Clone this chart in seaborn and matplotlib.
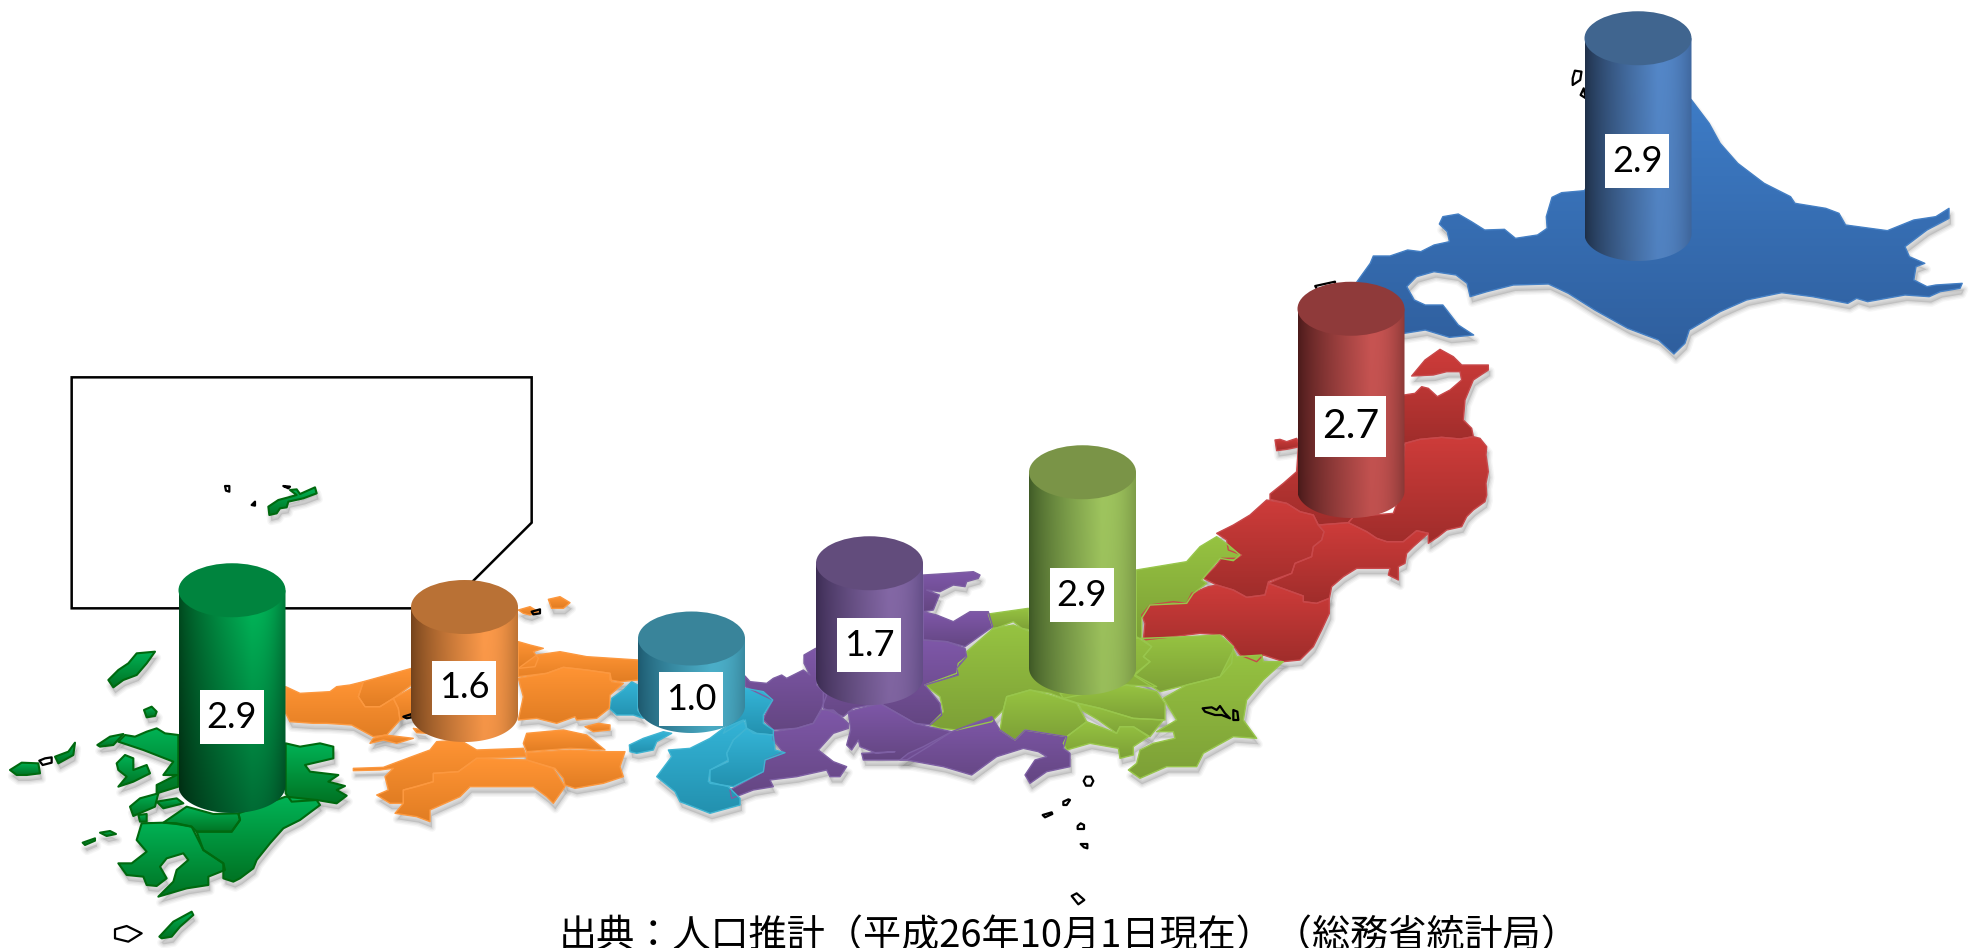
import numpy as np
import pandas as pd
import matplotlib
matplotlib.use("Agg")
import matplotlib.pyplot as plt
from matplotlib.patches import Polygon, PathPatch, Ellipse
from matplotlib.path import Path
import seaborn as sns

# ---------- chart values ----------
regions = ["北海道", "東北", "関東", "中部", "近畿", "中国四国", "九州"]
values = [2.9, 2.7, 2.9, 1.7, 1.0, 1.6, 2.9]
value_labels = ["2.9", "2.7", "2.9", "1.7", "1.0", "1.6", "2.9"]
source_text = "出典：人口推計（平成26年10月1日現在）（総務省統計局）"

# cylinder anchor on the map (pixels)
cyl_x = [1638, 1351, 1082.5, 869.5, 691.5, 464.5, 232]
cyl_base = [234, 491, 668, 678, 706, 715, 786]
label_boxes = [(1605, 134, 1669, 188), (1315, 396, 1386, 457), (1050, 568, 1114, 622),
               (837, 618, 901, 672), (659, 672, 723, 726), (432, 661, 496, 715), (200, 690, 264, 744)]
label_sizes = [26, 29.5, 26, 26, 26, 26, 26]

# cylinder gradient stops: dark left, peak, right edge, top-cap
cyl_left = ["#1f3049", "#4a1a1a", "#3f5a26", "#3c2c53", "#1d5a70", "#74431c", "#00491e"]
cyl_peak = ["#5487c8", "#c85452", "#9fc55e", "#8468a6", "#4cb0ca", "#fd9a4a", "#00b95a"]
cyl_right = ["#40689f", "#8d3a38", "#7f9e49", "#66508a", "#3a8ba2", "#bf7434", "#007a3a"]
cyl_cap = ["#40658f", "#8f3a3a", "#7a9447", "#624c7c", "#39849a", "#b97135", "#00843e"]

# ---------- map outlines: traced in crops, crop=(x0, y0, sx, sy) ----------
C1 = (1280, 0, 2.272, 3)
C2 = (1100, 340, 3, 3)
C3 = (900, 530, 3, 3)
C4 = (600, 560, 3, 3)
C5 = (270, 580, 3, 3)
C6 = (0, 630, 3, 3)
C7 = (960, 740, 3, 3)
C8 = (50, 360, 3, 3)

hokkaido = [(C1, [(175,845),(205,790),(212,768),(250,768),(290,750),(320,755),(350,735),(385,725),(380,695),(362,672),(370,650),(405,642),(435,665),(465,690),(510,688),(535,715),(585,705),(607,685),(605,650),(618,592),(640,578),(692,572),(760,400),(900,260),(935,300),(975,370),(1000,430),(1040,490),(1100,550),(1160,590),(1170,610),(1240,625),(1270,640),(1285,675),(1380,692),(1440,660),(1490,650),(1520,625),(1520,655),(1470,690),(1420,740),(1430,770),(1465,790),(1445,800),(1440,840),(1470,860),(1490,855),(1550,850),(1545,865),(1500,875),(1475,890),(1420,885),(1335,905),(1310,895),(1290,910),(1210,890),(1140,878),(1060,900),(1000,935),(930,990),(920,1030),(895,1062),(860,1020),(790,985),(715,930),(655,880),(610,852),(530,855),(470,875),(432,890),(425,850),(400,825),(350,815),(310,830),(288,860),(305,900),(330,915),(370,915),(405,975),(440,1005),(385,1012),(330,990),(282,1000),(230,1000),(180,950),(150,900)])]

tohoku = [
 (C2, [(912,165),(945,160),(965,140),(985,145),(1012,170),(1050,150),(1085,120),(1080,95),(1040,95),(1000,105),(935,108),(975,60),(1020,28),(1060,50),(1085,75),(1165,75),(1165,90),(1120,120),(1095,180),(1090,240),(1115,265),(1120,290),(1080,297),(1025,292),(960,298),(915,310),(880,300),(880,170)]),
 (C2, [(590,395),(550,430),(510,462),(510,478),(560,490),(600,515),(640,525),(655,555),(745,548),(760,530),(800,500),(900,300),(600,250)]),
 (C2, [(525,300),(540,298),(560,305),(590,295),(600,320),(560,328),(530,332)]),
 (C2, [(915,310),(960,298),(1025,292),(1080,297),(1120,290),(1140,295),(1160,320),(1158,345),(1165,395),(1158,430),(1160,465),(1155,485),(1120,510),(1100,530),(1085,560),(1040,570),(1015,590),(985,610),(985,580),(950,572),(910,605),(860,605),(830,595),(800,575),(745,548),(760,530),(880,520),(905,450)]),
 (C2, [(500,480),(560,490),(600,515),(640,525),(655,555),(672,575),(665,600),(640,620),(635,650),(585,670),(575,700),(505,725),(495,765),(440,772),(400,750),(350,735),(310,715),(345,680),(365,655),(410,655),(425,645),(385,630),(380,600),(350,580),(400,555),(450,525)]),
 (C2, [(655,555),(745,548),(800,575),(830,595),(860,605),(910,605),(950,572),(985,580),(940,620),(920,640),(915,670),(895,680),(895,720),(865,705),(870,685),(820,685),(770,685),(730,710),(695,740),(688,775),(650,790),(610,785),(610,768),(505,730),(575,700),(585,670),(635,650),(640,620),(665,600),(672,575)]),
 (C2, [(325,740),(350,735),(400,750),(440,772),(495,765),(505,730),(610,768),(610,785),(650,790),(688,775),(688,820),(665,870),(640,920),(600,960),(550,965),(490,945),(470,965),(420,945),(395,910),(370,885),(300,880),(220,890),(130,900),(135,850),(125,825),(150,795),(220,785),(260,790),(275,760)]),
]

kanto = [
 (C3, [(709,120),(860,95),(900,50),(950,20),(985,45),(1020,75),(1000,92),(960,85),(905,150),(920,160),(880,190),(860,220),(750,225),(725,265),(725,325),(709,325)]),
 (C3, [(265,252),(385,235),(390,300),(365,295),(340,275),(280,298)]),
 (C3, [(200,365),(280,295),(340,285),(390,305),(709,320),(755,350),(730,380),(750,395),(705,435),(770,470),(680,465),(490,505),(450,490),(390,480),(320,500),(310,540),(275,575),(170,600),(120,595),(90,585),(130,545),(120,500),(75,465),(170,430),(175,400),(200,380)]),
 (C3, [(725,325),(860,320),(960,315),(1000,350),(995,400),(960,440),(860,465),(780,485),(700,435),(750,395),(730,380),(755,350)]),
 (C3, [(1000,360),(1010,380),(1085,375),(1090,395),(1150,395),(1090,450),(1040,510),(1030,570),(1070,625),(1000,620),(910,670),(890,710),(800,710),(720,745),(685,720),(710,700),(720,660),(760,640),(825,625),(820,605),(770,605),(830,570),(790,505),(860,465),(960,440)]),
 (C3, [(480,490),(680,465),(770,485),(795,520),(795,570),(700,565),(600,535),(535,520),(490,505)]),
 (C3, [(535,520),(600,535),(700,565),(790,570),(750,620),(700,590),(660,590),(650,610),(595,570),(545,540)]),
 (C3, [(320,500),(390,480),(450,495),(530,520),(560,575),(500,620),(375,600),(345,630),(300,600),(310,540)]),
 (C3, [(560,575),(650,610),(660,590),(700,590),(745,620),(700,650),(700,675),(660,685),(655,655),(570,640),(500,660),(490,640),(500,620)]),
]

chubu = [
 (C4, [(970,45),(1050,40),(1120,35),(1140,45),(1135,55),(1100,65),(1095,80),(1060,75),(1020,95),(980,90),(1018,105),(1000,150),(970,155)]),
 (C4, [(970,155),(1010,165),(1060,185),(1110,155),(1165,155),(1178,200),(1095,260),(1040,245),(970,240)]),
 (C4, [(970,240),(1040,245),(1095,265),(1100,290),(1070,325),(1075,345),(975,375),(1020,430),(1025,465),(990,495),(945,490),(840,430),(760,445),(730,470),(670,445),(670,370),(820,350)]),
 (C4, [(650,375),(680,405),(665,445),(640,490),(590,505),(520,510),(490,480),(495,465),(518,420),(435,380),(435,348),(450,365),(500,370),(520,355),(545,345),(560,355),(590,340),(610,330),(630,345),(612,310),(612,285),(647,265)]),
 (C4, [(665,450),(700,450),(745,490),(745,505),(700,520),(655,570),(700,605),(740,620),(720,650),(690,650),(680,630),(590,650),(510,660),(520,680),(460,690),(395,715),(390,690),(490,635),(495,600),(550,578),(520,540),(520,515),(590,505),(640,490)]),
 (C4, [(745,455),(840,430),(945,490),(985,500),(1055,515),(985,560),(920,600),(790,600),(785,580),(885,575),(830,580),(780,560),(775,540),(755,570),(740,555),(752,510)]),
 (C3, [(155,605),(275,560),(300,600),(345,630),(375,600),(500,620),(490,655),(510,670),(510,710),(440,725),(390,760),(375,735),(405,690),(440,680),(415,665),(370,655),(290,680),(215,735),(130,710),(20,690),(0,690),(25,670),(70,650)]),
]

kinki = [
 (C4, [(95,365),(113,375),(113,450),(130,475),(100,465),(50,465),(28,445),(35,415),(70,390)]),
 (C4, [(436,385),(490,395),(518,420),(490,465),(490,490),(520,510),(520,525),(460,520),(440,505),(436,480),(370,520)]),
 (C4, [(88,555),(130,535),(190,515),(215,520),(170,545),(160,570),(110,580),(90,575)]),
 (C4, [(205,570),(270,565),(330,535),(370,505),(430,480),(440,505),(400,540),(380,580),(385,600),(330,630),(325,665),(385,680),(420,715),(420,735),(330,760),(240,725),(225,695),(170,650),(200,610),(215,590)]),
 (C4, [(440,505),(470,520),(520,525),(525,570),(555,578),(495,600),(490,635),(400,680),(330,670),(330,630),(385,605),(380,580),(400,540)]),
]

chugoku_shikoku = [
 (C5, [(47,320),(90,340),(180,335),(200,320),(240,315),(280,305),(265,350),(285,380),(330,380),(370,355),(385,385),(390,420),(350,465),(310,470),(245,435),(170,430),(130,430),(60,425),(47,400)]),
 (C5, [(280,305),(425,265),(425,315),(370,355),(330,380),(285,380),(265,350)]),
 (C5, [(370,355),(425,325),(425,410),(405,415),(390,420),(385,385)]),
 (C5, [(745,185),(780,195),(820,205),(790,215),(805,235),(795,260),(745,265)]),
 (C5, [(800,225),(870,215),(950,230),(1105,240),(1105,300),(1050,305),(1020,300),(1020,280),(950,270),(880,262),(830,280),(745,290),(745,265)]),
 (C5, [(745,295),(830,280),(880,262),(950,270),(1020,280),(1025,305),(1060,310),(1020,345),(1018,385),(980,415),(920,420),(915,410),(860,430),(800,415),(745,420),(760,350)]),
 (C5, [(300,490),(310,475),(345,465),(430,475),(380,490),(340,480)]),
 (C5, [(430,445),(460,450),(470,460),(440,458)]),
 (C5, [(945,440),(985,430),(1020,435),(1020,450),(970,455)]),
 (C5, [(835,58),(870,50),(900,68),(880,85),(845,85)]),
 (C5, [(745,90),(780,80),(805,95),(780,105),(760,100)]),
 (C5, [(250,565),(340,562),(420,532),(480,510),(500,485),(570,480),(620,510),(760,505),(770,530),(620,535),(565,575),(490,580),(490,605),(440,620),(400,630),(400,670),(360,670),(320,645),(355,630),(345,590),(370,565),(330,570),(250,572)]),
 (C5, [(400,630),(490,605),(490,580),(565,575),(620,535),(770,540),(850,565),(885,620),(850,670),(830,650),(790,620),(660,620),(600,620),(570,650),(480,690),(480,725),(440,710),(375,700),(400,670)]),
 (C5, [(770,460),(880,450),(950,465),(1005,510),(900,505),(770,515),(760,490)]),
 (C5, [(770,518),(900,510),(1005,515),(1065,515),(1050,560),(1060,590),(1000,610),(915,625),(885,615),(880,595),(855,565),(770,540)]),
]

kyushu = [
 (C6, [(857,340),(900,350),(960,340),(1000,350),(1000,385),(915,405),(930,425),(1015,435),(985,455),(1035,468),(1010,480),(1040,497),(1010,520),(950,510),(875,515),(857,490)]),
 (C6, [(440,305),(470,295),(495,310),(535,315),(535,470),(470,490),(470,465),(530,435),(490,435),(520,395),(430,360),(355,335),(375,315),(405,320)]),
 (C6, [(350,400),(375,375),(400,385),(400,420),(440,405),(450,430),(400,455),(355,470),(380,440),(355,420)]),
 (C6, [(325,150),(355,120),(385,100),(410,70),(465,65),(440,100),(410,135),(370,150),(340,172)]),
 (C6, [(432,240),(455,230),(470,245),(465,258),(440,262)]),
 (C6, [(292,345),(330,320),(370,312),(340,345),(300,350)]),
 (C6, [(30,420),(65,398),(115,400),(120,430),(80,435),(50,435)]),
 (C6, [(165,380),(205,365),(225,338),(220,375),(175,400)]),
 (C6, [(248,638),(285,625),(285,632),(255,645)]),
 (C6, [(300,608),(330,603),(348,612),(320,618)]),
 (C6, [(390,530),(420,505),(475,490),(465,530),(400,558)]),
 (C6, [(470,515),(530,505),(550,520),(490,535)]),
 (C6, [(415,555),(440,552),(440,575),(420,575)]),
 (C6, [(490,578),(560,530),(640,552),(715,550),(720,570),(695,605),(590,605),(575,590),(530,580)]),
 (C6, [(425,580),(490,578),(530,582),(575,590),(610,660),(670,700),(675,720),(625,740),(625,765),(560,775),(475,800),(520,755),(530,720),(565,690),(550,670),(500,685),(480,710),(500,745),(470,768),(440,765),(430,740),(380,735),(355,700),(395,700),(440,665),(410,630)]),
 (C6, [(590,605),(695,605),(720,570),(715,550),(857,500),(950,510),(960,525),(900,570),(850,595),(810,640),(770,690),(760,715),(720,745),(700,755),(670,745),(670,700),(610,660)]),
 (C6, [(478,920),(520,875),(575,845),(580,855),(540,890),(515,920),(485,925)]),
 (C8, [(655,440),(685,420),(715,412),(740,405),(720,390),(740,388),(750,402),(795,382),(800,400),(760,415),(715,425),(710,442),(690,445),(680,460),(658,465)]),
]

map_groups = [hokkaido, tohoku, kanto, chubu, kinki, chugoku_shikoku, kyushu]
map_top = ["#3e7dc8", "#ce3c3a", "#96c341", "#7e57a8", "#34b4d7", "#ff9434", "#00b255"]
map_bottom = ["#2f5f9e", "#a02d2b", "#7da037", "#644682", "#2391af", "#e17d23", "#007323"]
map_edge = ["#447fc4", "#c8484a", "#98c64c", "#7d5fa3", "#3fb4d2", "#fc983f", "#00690f"]
map_edge_width = [1.0, 1.0, 1.0, 1.0, 1.0, 1.0, 1.5]

outline_islands = [
 (C1, [(670,212),(685,215),(682,240),(665,255),(665,235)]),
 (C1, [(690,265),(695,295),(683,285)]),
 (C1, [(80,858),(125,845),(125,860),(85,870)]),
 (C6, [(345,898),(380,888),(425,910),(385,935),(345,925)]),
 (C6, [(118,392),(135,385),(155,382),(155,398),(128,405)]),
 (C7, [(371,123),(378,110),(393,110),(400,123),(393,137),(378,137)]),
 (C7, [(310,185),(325,178),(330,180),(320,195),(310,195)]),
 (C7, [(248,225),(275,217),(277,222),(255,232)]),
 (C7, [(353,258),(362,250),(372,255),(372,267),(353,267)]),
 (C7, [(362,312),(382,312),(382,325),(372,322)]),
 (C7, [(335,468),(350,460),(373,480),(355,493)]),
 (C8, [(525,378),(538,378),(538,395),(528,392)]),
 (C8, [(700,378),(720,380),(715,385)]),
 (C8, [(605,435),(615,425),(615,437)]),
 (C8, [(1445,755),(1470,748),(1470,760),(1450,763)]),
 (C5, [(400,410),(425,402),(425,412),(410,415)]),
 (C3, [(908,535),(935,532),(950,540),(960,528),(975,550),(990,565),(965,555),(945,555),(915,545)]),
 (C3, [(1000,540),(1012,545),(1015,570),(1000,570)]),
]
inset_box = (C8, [(65,52),(1445,52),(1445,488),(1187,745),(65,745)])

W, H = 1970, 948
PX_PER_UNIT = 67.5
CYL_W = 107
CAP_RY = 27


def to_px(entry):
    (x0, y0, sx, sy), pts = entry
    return [(x0 + x / sx, H - (y0 + y / sy)) for x, y in pts]


def rgb(c):
    return np.array(matplotlib.colors.to_rgb(c))


sns.set_theme(style="white")
plt.rcParams["font.family"] = ["Noto Sans CJK JP", "DejaVu Sans"]
fig = plt.figure(figsize=(W / 100, H / 100), dpi=100, facecolor="white")
ax = fig.add_axes([0, 0, 1, 1])

# inset frame
ax.add_patch(Polygon(to_px(inset_box), closed=True, fill=False, ec="black", lw=1.8, zorder=1, joinstyle="miter"))

# map
for g, group in enumerate(map_groups):
    top, bot = rgb(map_top[g]), rgb(map_bottom[g])
    ramp = np.linspace(top, bot, 64)[:, None, :]
    for entry in group:
        pts = to_px(entry)
        arr = np.array(pts)
        for k, a in [(6, 0.05), (4, 0.07), (2, 0.09)]:
            ax.add_patch(Polygon(arr + [2, -6], closed=True, fc="#555555", ec="#555555", lw=k,
                                 alpha=a, zorder=2, joinstyle="round"))
        poly = Polygon(pts, closed=True, fc="none", ec=map_edge[g], lw=map_edge_width[g], zorder=4, joinstyle="round")
        ax.add_patch(poly)
        im = ax.imshow(ramp, extent=(arr[:, 0].min(), arr[:, 0].max(), arr[:, 1].min(), arr[:, 1].max()),
                       origin="upper", aspect="auto", interpolation="bilinear", zorder=3)
        im.set_clip_path(poly)

for entry in outline_islands:
    ax.add_patch(Polygon(to_px(entry), closed=True, fc="none", ec="black", lw=1.6, zorder=5, joinstyle="round"))

# cylinders: bars through seaborn, then shaded
df = pd.DataFrame({"region": regions, "value": values, "x": cyl_x, "base": cyl_base})
df["height"] = df["value"] * PX_PER_UNIT

for i, row in df.iterrows():
    n_before = len(ax.patches)
    sns.barplot(x=[row["x"]], y=[row["height"]], bottom=H - row["base"], native_scale=True,
                width=CYL_W, errorbar=None, color=cyl_peak[i], ax=ax, zorder=6, linewidth=0)
    bar = ax.patches[n_before]
    bar.set_visible(False)
    x0, w = bar.get_x(), bar.get_width()
    y_base, h = bar.get_y(), bar.get_height()
    y_top = y_base + h
    xc = x0 + w / 2
    rx = w / 2

    th = np.linspace(np.pi, 2 * np.pi, 60)
    verts = [(x0, y_top)] + [(xc + rx * np.cos(t), y_base + CAP_RY * np.sin(t)) for t in th] + [(x0 + w, y_top), (x0, y_top)]
    clip = PathPatch(Path(verts), fc="none", ec="none", zorder=6)
    ax.add_patch(clip)

    u = np.linspace(0, 1, 128)
    left, peak, right = rgb(cyl_left[i]), rgb(cyl_peak[i]), rgb(cyl_right[i])
    row_colors = np.where((u < 0.68)[:, None],
                          left + (peak - left) * (np.clip(u / 0.68, 0, 1) ** 0.75)[:, None],
                          peak + (right - peak) * (np.clip((u - 0.68) / 0.32, 0, 1) ** 2.2)[:, None])
    v = np.linspace(0, 1, 96)
    if regions[i] == "九州":
        shade = 1.0 - 0.42 * v
    else:
        shade = 1.0 - 0.04 * v
    grad = np.clip(row_colors[None, :, :] * shade[:, None, None], 0, 1)
    im = ax.imshow(grad, extent=(x0, x0 + w, y_base - CAP_RY, y_top), origin="upper",
                   aspect="auto", interpolation="bilinear", zorder=6)
    im.set_clip_path(clip)

    ax.add_patch(Ellipse((xc, y_top), w, 2 * CAP_RY, fc=cyl_cap[i], ec="none", zorder=7))

    bx0, by0, bx1, by1 = label_boxes[i]
    ax.text((bx0 + bx1) / 2, H - (by0 + by1) / 2, value_labels[i], ha="center", va="center",
            family=["Lato", "DejaVu Sans"], fontsize=label_sizes[i], color="black", zorder=9)
    ax.fill([bx0, bx1, bx1, bx0], [H - by0, H - by0, H - by1, H - by1], color="white", zorder=8, lw=0)

ax.text(1069, H - 937, source_text, ha="center", va="center", fontsize=27.45, color="black", zorder=9,
        family=["Noto Sans CJK JP", "DejaVu Sans"])

ax.set_xlim(0, W)
ax.set_ylim(0, H)
ax.set_aspect("auto")
ax.set_xlabel("")
ax.set_ylabel("")
ax.axis("off")
fig.savefig("out.png", dpi=100, facecolor="white")
